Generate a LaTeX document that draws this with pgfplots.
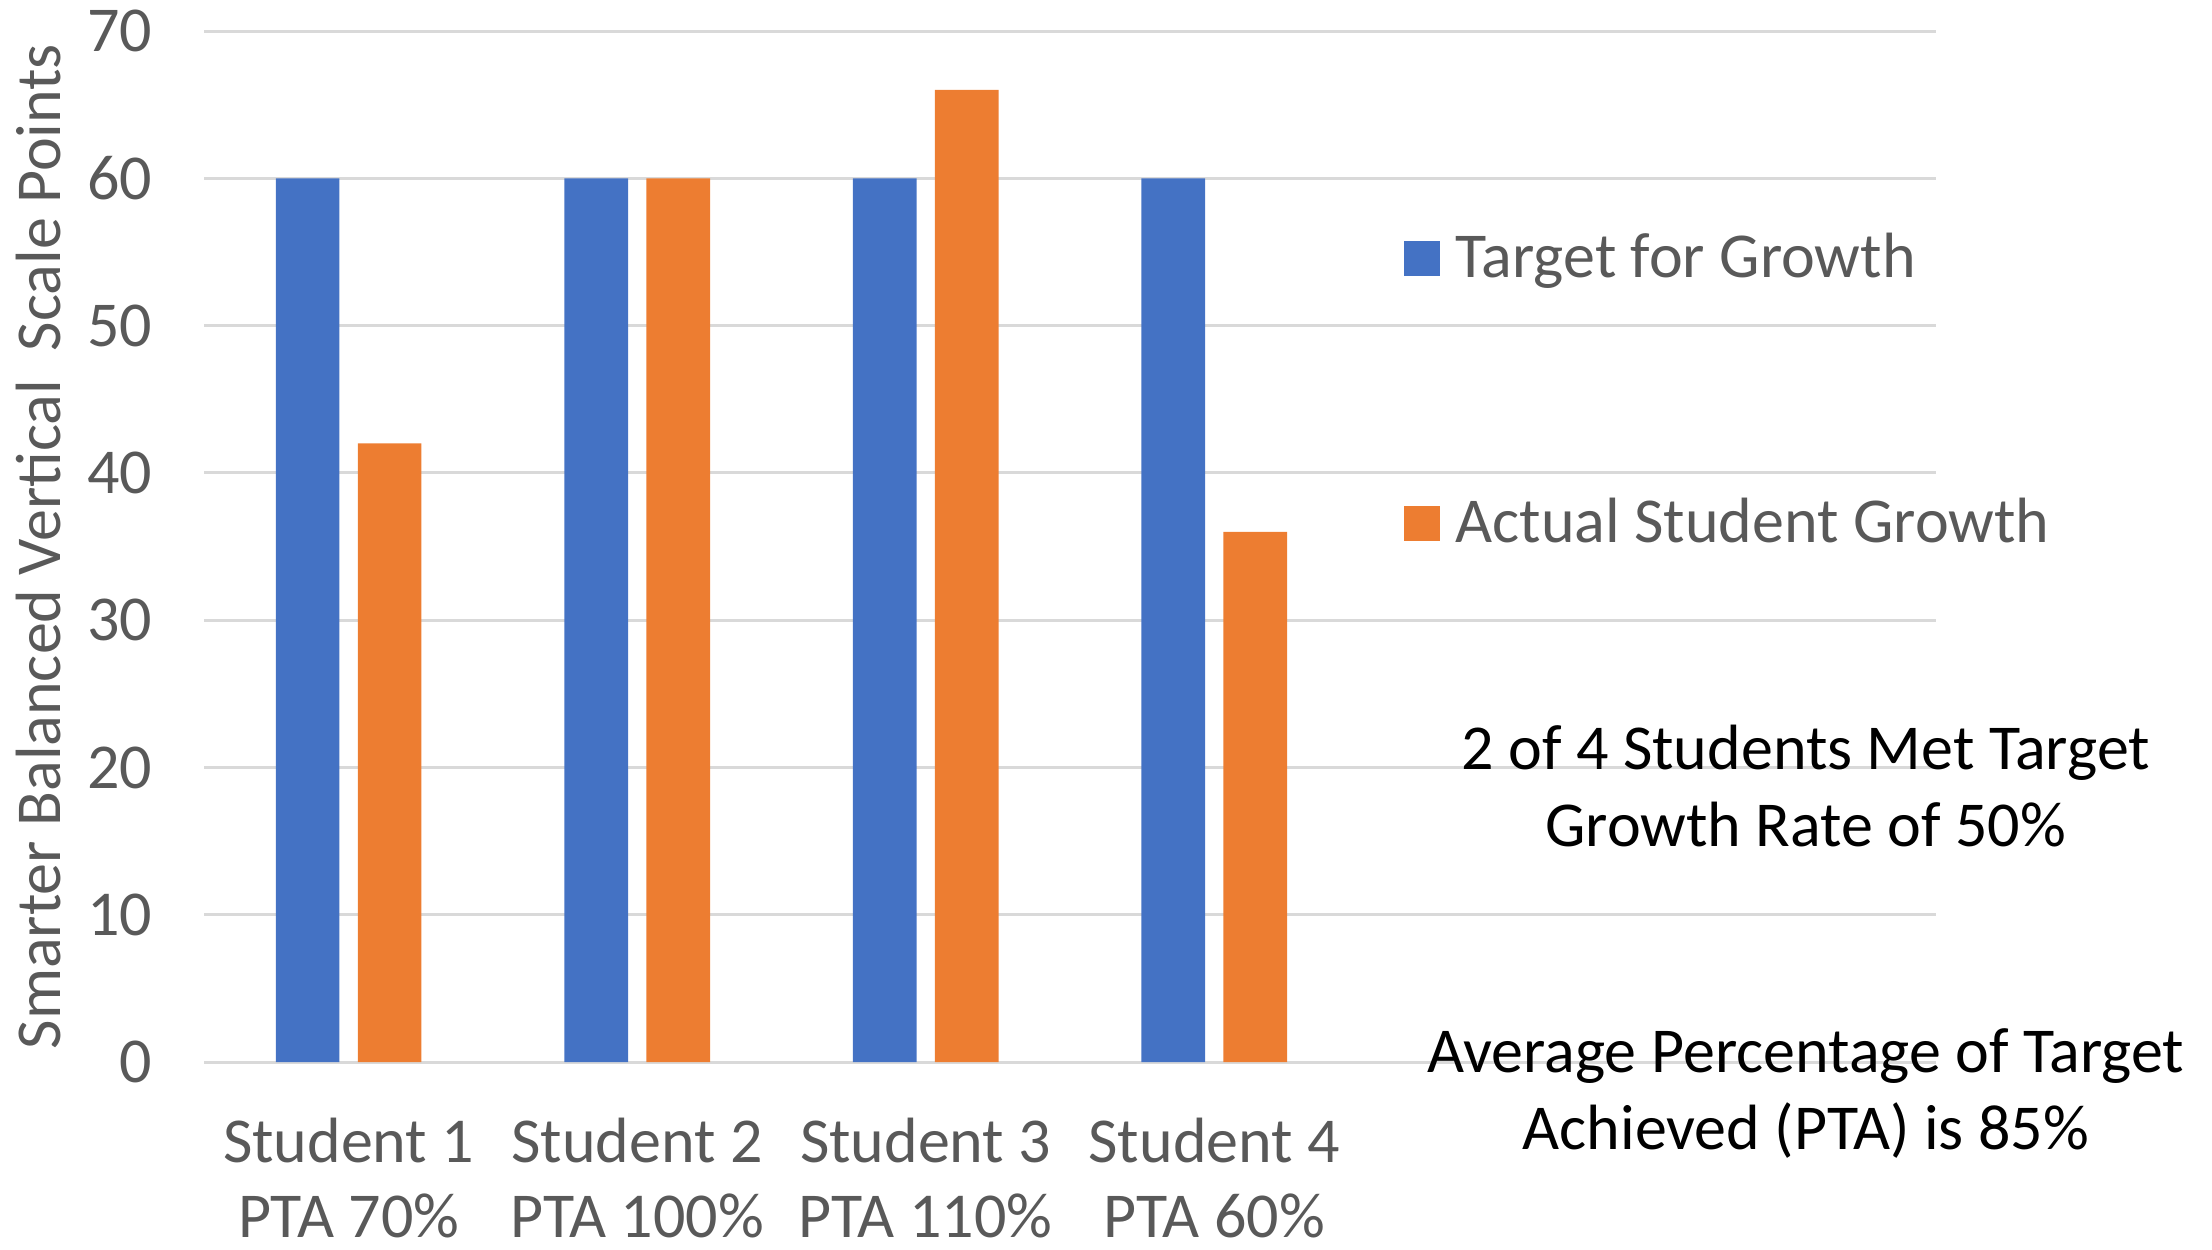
\documentclass[border=0pt]{standalone}
\usepackage{pgfplots}
\pgfplotsset{compat=1.18}
\usepackage{fontspec}
\setmainfont{Carlito}
\definecolor{cblue}{HTML}{4472C4}
\definecolor{corange}{HTML}{ED7D31}
\definecolor{tgray}{HTML}{595959}
\definecolor{gridc}{HTML}{D9D9D9}
\begin{document}
\begin{tikzpicture}
\path[use as bounding box] (-51.1pt,-46.9pt) rectangle (501.9pt,265.55pt);
\begin{axis}[
  at={(0pt,0pt)}, anchor=south west,
  scale only axis, width=432.8pt, height=257.8pt,
  xmin=-0.5, xmax=5.5, ymin=0, ymax=70,
  ybar=4.6pt, bar width=15.9pt,
  xtick={0,1,2,3},
  xticklabels={{Student 1\\PTA 70\%},{Student 2\\PTA 100\%},{Student 3\\PTA 110\%},{Student 4\\PTA 60\%}},
  ytick={0,10,...,70},
  ymajorgrids, grid style={color=gridc, line width=0.75pt},
  axis line style={draw=none}, major tick length=0pt,
  tick label style={font=\fontsize{16}{19.2}\selectfont, text=tgray},
  xticklabel style={align=center, yshift=-10.5pt, font=\fontsize{16}{18.8}\selectfont},
  yticklabel style={xshift=-9.5pt},
  /pgf/number format/assume math mode=true,
  ylabel={Smarter Balanced Vertical\ \ Scale Points},
  ylabel style={at={(rel axis cs:-0.096,0.5)}, anchor=center, font=\fontsize{16}{19.2}\selectfont, text=tgray},
  legend image code/.code={\fill[#1] (0pt,-3.5pt) rectangle (8.8pt,5.3pt);},
  legend style={draw=none, fill=none, at={(rel axis cs:0.6927,0.6472)}, anchor=west, inner sep=0pt, row sep=51.8pt,
    font=\fontsize{16}{19.2}\selectfont, text=tgray,
    nodes={text height=11pt, text depth=3.5pt, inner ysep=0pt, inner xsep=4pt}},
  legend cell align=left,
  clip=false,
]
\addplot[fill=cblue, draw=none] coordinates {(0,60) (1,60) (2,60) (3,60)};
\addplot[fill=corange, draw=none] coordinates {(0,42) (1,60) (2,66) (3,36)};
\legend{Target for Growth, Actual Student Growth}
\node[align=center, font=\fontsize{16}{19.2}\selectfont, text=black] at (rel axis cs:0.925,0.268) {2 of 4 Students Met Target\\Growth Rate of 50\%};
\node[align=center, font=\fontsize{16}{19.2}\selectfont, text=black] at (rel axis cs:0.925,-0.030) {Average Percentage of Target\\Achieved (PTA) is 85\%};
\end{axis}
\end{tikzpicture}
\end{document}
